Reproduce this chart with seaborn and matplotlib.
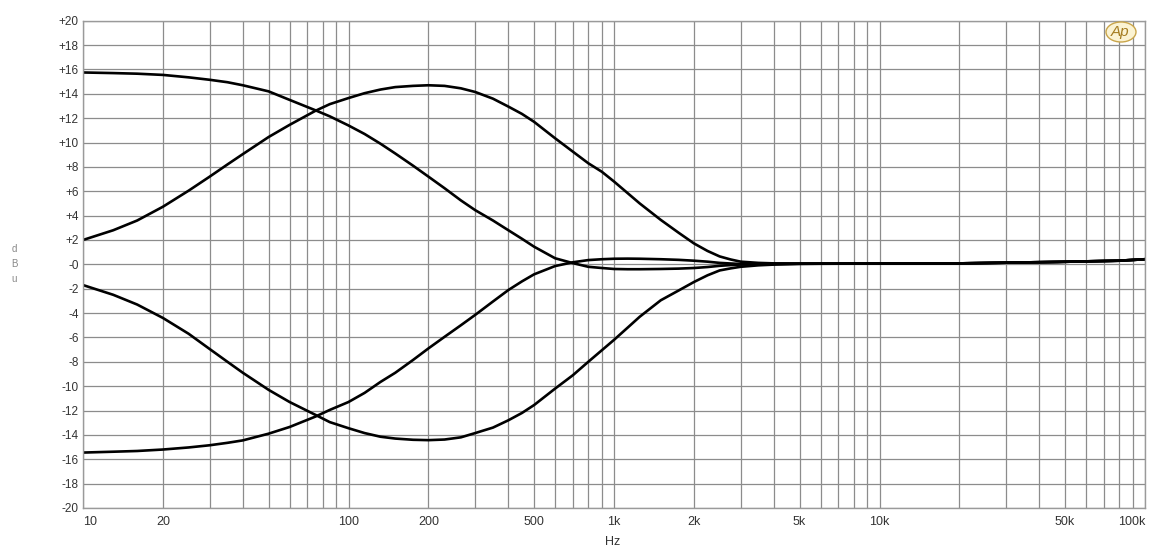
import numpy as np
import pandas as pd
import matplotlib
matplotlib.use("Agg")
import matplotlib.pyplot as plt
from matplotlib.patches import Ellipse
from matplotlib.ticker import FixedLocator, NullFormatter
import seaborn as sns

# ---- data ----
freq_hz = [10, 13, 16, 20, 25, 30, 35, 40, 50, 60,
           75, 85, 100, 115, 132, 150, 175, 200, 230, 265,
           300, 350, 400, 450, 500, 600, 700, 800, 900, 1000,
           1125, 1250, 1500, 1750, 2000, 2250, 2500, 2750, 3000, 3500,
           4000, 5000, 10000, 20000, 47000, 80000, 100000]

bass_boost = [15.75, 15.7, 15.65, 15.55, 15.35, 15.15, 14.95, 14.7, 14.2, 13.5,
              12.65, 12.15, 11.4, 10.7, 9.9, 9.1, 8.1, 7.2, 6.25, 5.25,
              4.45, 3.6, 2.8, 2.1, 1.45, 0.5, 0.1, -0.2, -0.3, -0.38,
              -0.4, -0.4, -0.38, -0.35, -0.3, -0.22, -0.12, -0.06, -0.02, 0.0,
              0.03, 0.05, 0.07, 0.08, 0.2, 0.3, 0.42]
bass_cut = [-15.45, -15.38, -15.32, -15.2, -15.03, -14.85, -14.65, -14.45, -13.9, -13.35,
            -12.5, -11.95, -11.3, -10.55, -9.65, -8.9, -7.85, -6.9, -5.95, -5.0,
            -4.15, -3.05, -2.11, -1.4, -0.82, -0.14, 0.17, 0.35, 0.42, 0.46,
            0.47, 0.46, 0.42, 0.37, 0.3, 0.22, 0.12, 0.07, 0.03, 0.03,
            0.05, 0.05, 0.07, 0.08, 0.2, 0.3, 0.42]
mid_boost = [2.0, 2.8, 3.6, 4.73, 6.05, 7.2, 8.2, 9.05, 10.45, 11.45,
             12.6, 13.15, 13.65, 14.05, 14.35, 14.55, 14.65, 14.7, 14.65, 14.45,
             14.15, 13.6, 12.95, 12.35, 11.7, 10.35, 9.25, 8.3, 7.6, 6.8,
             5.85, 5.0, 3.65, 2.6, 1.72, 1.1, 0.65, 0.4, 0.22, 0.12,
             0.08, 0.06, 0.07, 0.08, 0.2, 0.3, 0.42]
mid_cut = [-1.7, -2.5, -3.3, -4.4, -5.7, -6.95, -8.0, -8.9, -10.3, -11.3,
           -12.35, -12.95, -13.45, -13.85, -14.15, -14.3, -14.4, -14.43, -14.38, -14.2,
           -13.85, -13.4, -12.8, -12.2, -11.55, -10.2, -9.1, -8.0, -7.05, -6.2,
           -5.2, -4.3, -2.95, -2.15, -1.45, -0.9, -0.5, -0.33, -0.2, -0.08,
           -0.02, 0.04, 0.07, 0.08, 0.2, 0.3, 0.42]

curve_names = ["bass boost", "bass cut", "mid boost", "mid cut"]
curve_values = [bass_boost, bass_cut, mid_boost, mid_cut]

x_tick_values = [10, 20, 100, 200, 500, 1000, 2000, 5000, 10000, 50000, 100000]
x_tick_labels = ["10", "20", "100", "200", "500", "1k", "2k", "5k", "10k", "50k", "100k"]
y_tick_values = list(range(-20, 21, 2))
y_tick_labels = [("+%d" % v) if v > 0 else ("-0" if v == 0 else "%d" % v) for v in y_tick_values]

df = pd.concat([pd.DataFrame({"freq": freq_hz, "dB": vals, "curve": name})
                for name, vals in zip(curve_names, curve_values)], ignore_index=True)

# ---- style ----
sns.set_style("white")
plt.rcParams["font.family"] = ["Liberation Sans", "DejaVu Sans"]

W, H = 1154, 551
fig = plt.figure(figsize=(W / 100, H / 100), dpi=100)
ax = fig.add_axes([83 / W, 1 - 508 / H, (1145 - 83) / W, (508 - 20.7) / H])

grid_color = "#8c8c8c"
ax.set_xscale("log")
ax.set_xlim(10, 100000)
ax.set_ylim(-20, 20)

# grid at every 1..9 multiple of each decade
minor_x = [m * 10 ** d for d in range(1, 5) for m in range(1, 10)
           if m * 10 ** d not in x_tick_values and m * 10 ** d <= 100000]
ax.xaxis.set_major_locator(FixedLocator(x_tick_values))
ax.xaxis.set_minor_locator(FixedLocator(minor_x))
ax.set_xticklabels(x_tick_labels)
ax.xaxis.set_minor_formatter(NullFormatter())
ax.set_yticks(y_tick_values)
ax.set_yticklabels(y_tick_labels)
ax.yaxis.set_minor_locator(FixedLocator(np.arange(-20, 20.01, 0.5)))

ax.grid(True, which="both", axis="x", color=grid_color, lw=0.9)
ax.grid(True, which="major", axis="y", color=grid_color, lw=0.9)
ax.set_axisbelow(True)

sns.lineplot(data=df, x="freq", y="dB", units="curve", estimator=None, sort=False,
             color="black", lw=1.9, ax=ax, legend=False)

ax.set_xlabel("")
ax.set_ylabel("")
ax.tick_params(axis="x", which="both", length=0, pad=6, labelsize=9, labelcolor="#333333")
ax.tick_params(axis="y", which="major", length=5, direction="in", color="#999999",
               pad=3, labelsize=8.5, labelcolor="#333333")
ax.tick_params(axis="y", which="minor", length=3, direction="in", color="#999999")

labels = ax.get_xticklabels()
labels[0].set_horizontalalignment("left")
labels[-1].set_horizontalalignment("right")

for s in ax.spines.values():
    s.set_color("#9a9a9a")
    s.set_linewidth(1.0)

fig.text(613 / W, 1 - 542 / H, "Hz", ha="center", va="center", fontsize=9, color="#333333")
fig.text(14 / W, 1 - 264 / H, "d\nB\nu", ha="center", va="center", fontsize=7,
         color="#888888", linespacing=1.6)

# Ap logo
logo = Ellipse((1121 / W, 1 - 32 / H), 30 / W, 20 / H, transform=fig.transFigure,
               facecolor="#fbf3d2", edgecolor="#c9a54a", lw=1.0, zorder=5)
fig.patches.append(logo)
fig.text(1120 / W, 1 - 32 / H, "Ap", ha="center", va="center", fontsize=11,
         style="italic", color="#a57d22", zorder=6)

fig.savefig("out.png", dpi=100, facecolor="white")
